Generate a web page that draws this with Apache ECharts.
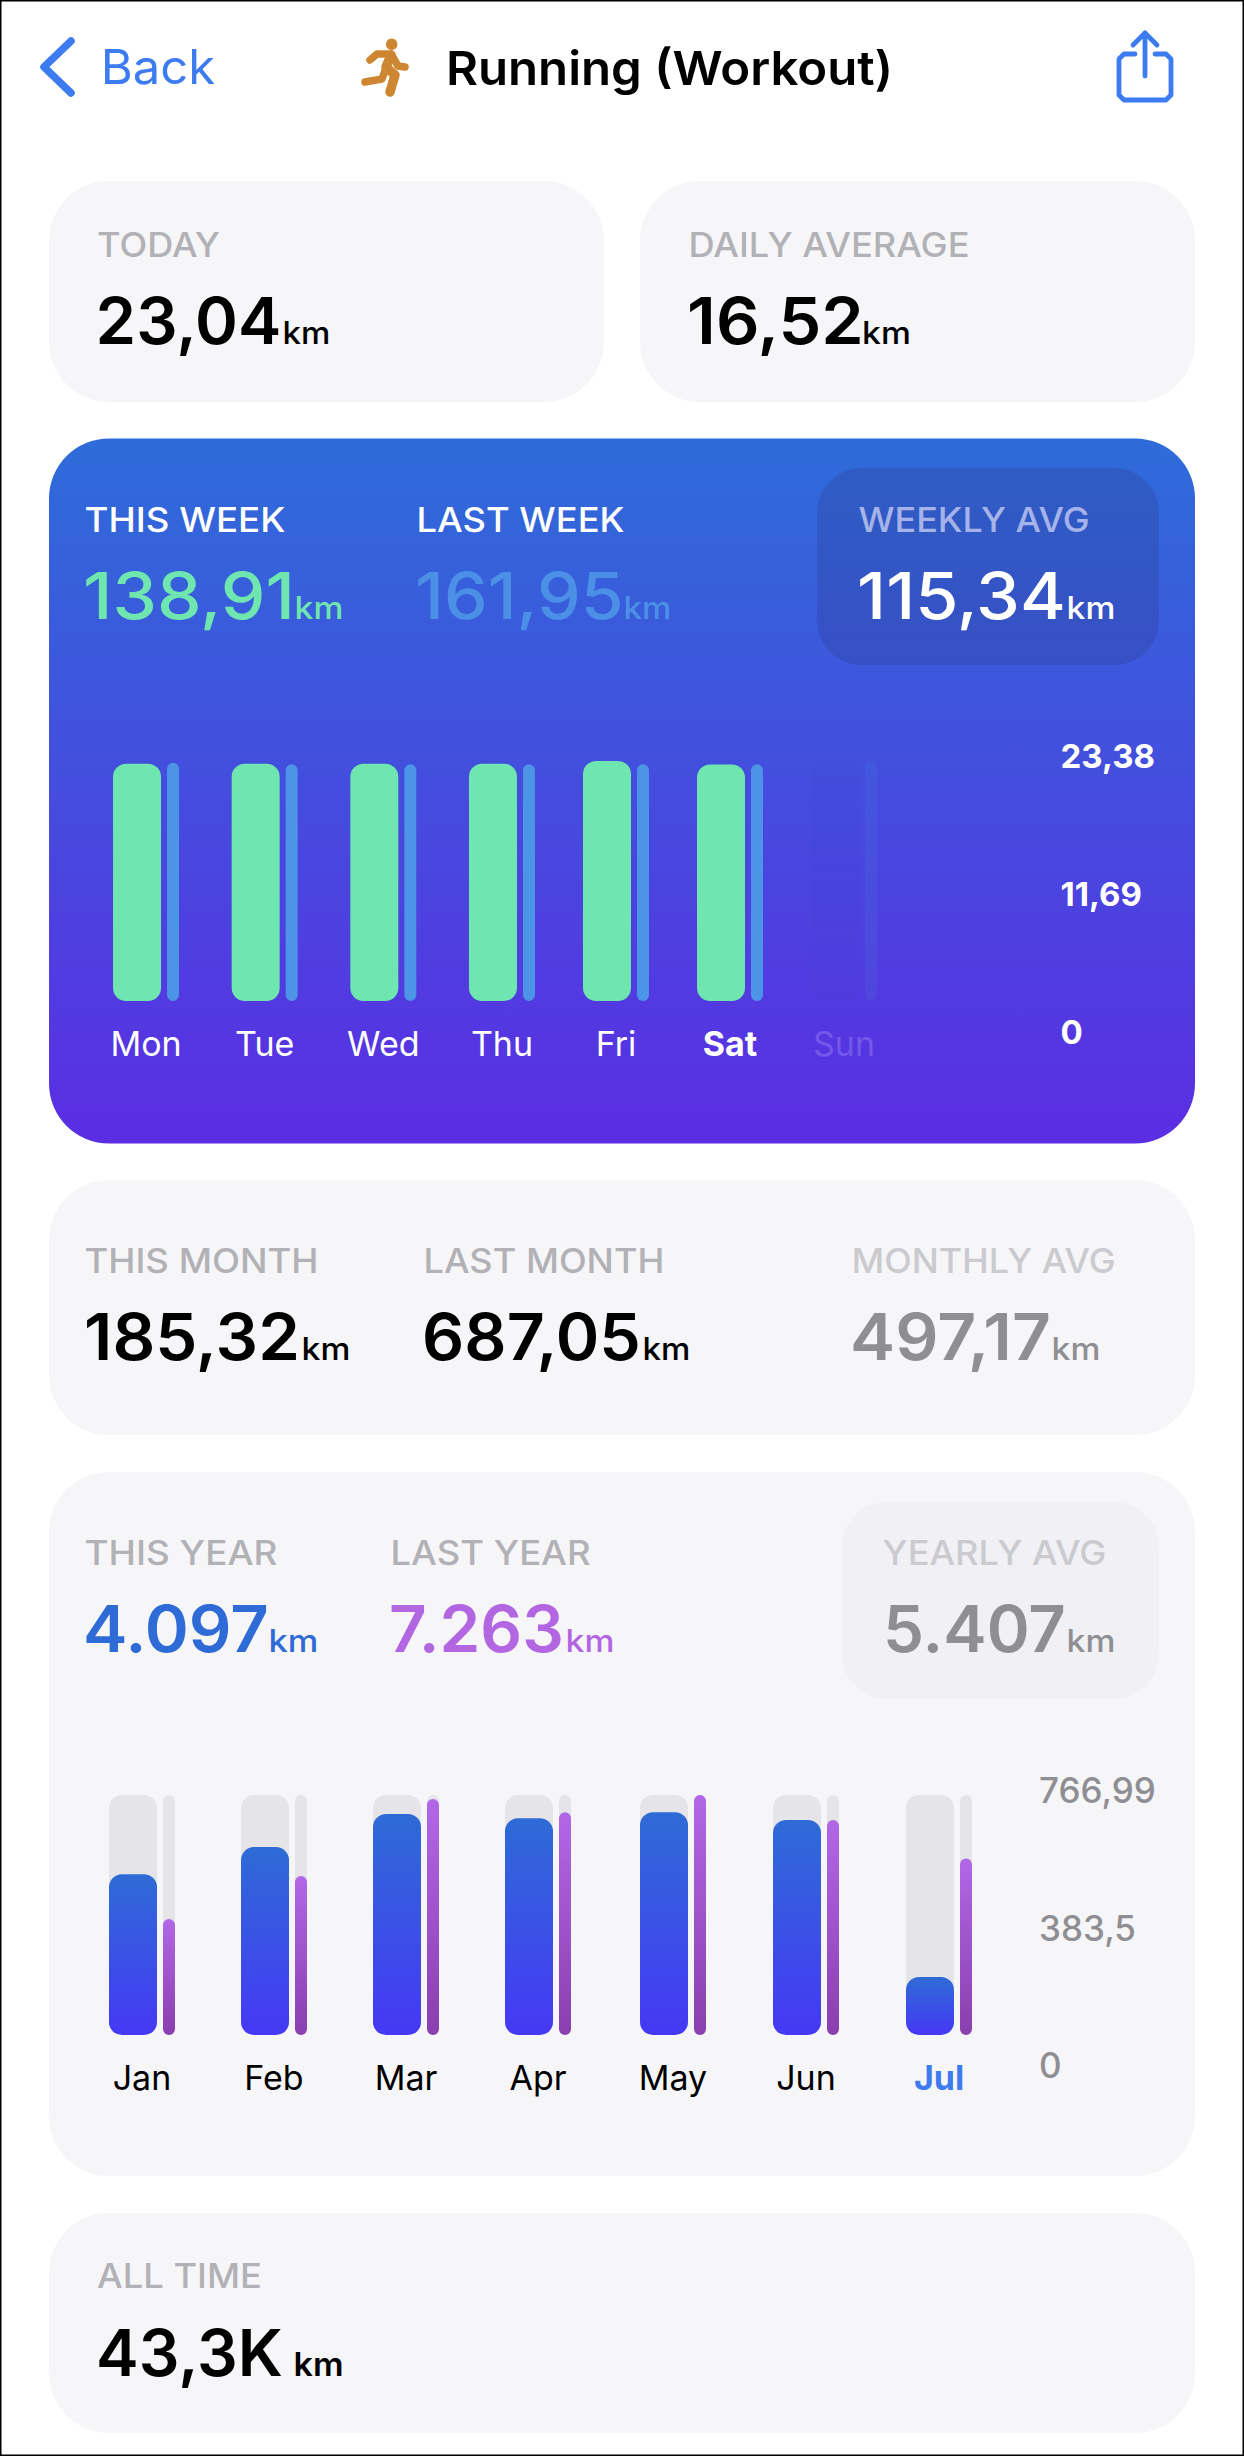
<!DOCTYPE html>
<html><head><meta charset="utf-8">
<style>html,body{margin:0;padding:0;background:#fff}#c{width:1244px;height:2456px}</style>
<script src="https://cdn.jsdelivr.net/npm/echarts@6/dist/echarts.min.js"></script>
</head><body><div id="c"></div>
<script>
// ---- data ----
const weekDays = ['Mon','Tue','Wed','Thu','Fri','Sat','Sun'];
const thisWeekKm = [23.12,23.12,23.12,23.12,23.38,23.04,0];
const lastWeekKm = [23.2,23.07,23.07,23.07,23.07,23.07,23.38];
const weekTicks = ['0','11,69','23,38'];
const weekMax = 23.38;
const months = ['Jan','Feb','Mar','Apr','May','Jun','Jul'];
const thisYearKm = [514,600.5,706.3,692.5,711.7,687.05,185.32];
const lastYearKm = [370.7,508,754,711.7,766.99,687,564.4];
const yearTicks = ['0','383,5','766,99'];
const yearMax = 766.99;

const FONT = 'Inter';
const BLUE = '#3C7BF0';
const CARD = '#F6F6F8';
const GREY = '#B1B1B6';
const measure = document.createElement('canvas').getContext('2d');

// text placed by its baseline, stretched to the width seen in the reference
function t(text, x, base, size, weight, fill, targetW) {
  measure.font = weight + ' ' + size + 'px ' + FONT;
  const w = measure.measureText(text).width;
  const bearing = size*0.045;
  return { type:'text', x:x-bearing, y:base - size*0.363, scaleX: targetW ? (targetW+2*bearing)/w : 1, z:100, silent:true,
    style:{ text:text, x:0, y:0, fontFamily:FONT, fontSize:size, fontWeight:weight, fill:fill, align:'left', verticalAlign:'middle' } };
}
function card(x,y,w,h,r,fill){ return {type:'rect',z:-10,silent:true,shape:{x:x,y:y,width:w,height:h,r:r},style:{fill:fill}}; }
function stroke(points,width,color){ return {type:'polyline',z:5,silent:true,shape:{points:points},style:{fill:'none',stroke:color,lineWidth:width,lineCap:'round',lineJoin:'round'}}; }
function km(x,base,fill,w,size,weight){ return t('km',x,base,size||31,weight||500,fill,w); }

const graphics = [
  // header
  stroke([[71,41],[44,67],[71,93]],7.5,BLUE),
  t('Back',103,84,48,400,BLUE,110),
  {type:'circle',z:5,silent:true,shape:{cx:391.7,cy:44.3,r:5.8},style:{fill:'#CE8632'}},
  stroke([[370,60],[377,54],[391,54],[398,66],[405,67]],7.5,'#CE8632'),
  stroke([[391,55],[386,67],[395,75],[390,92]],9.5,'#CE8632'),
  stroke([[386,68],[382,79],[365,82]],7.5,'#CE8632'),
  t('Running (Workout)',448,85,47,600,'#000',443),
  stroke([[1135,54],[1124,54],[1119,59],[1119,95],[1124,100],[1166,100],[1171,95],[1171,59],[1166,54],[1155,54]],4.8,BLUE),
  stroke([[1145,76],[1145,33]],4.8,BLUE),
  stroke([[1133,45],[1145,33],[1157,45]],4.8,BLUE),
  // today / daily
  card(49,181,555,221,60,CARD), card(640,181,555,221,60,CARD),
  t('TODAY',98.5,257,34,500,GREY,120),
  t('23,04',98.5,344,64,600,'#000',180), km(284,344,'#000',45),
  t('DAILY AVERAGE',690,257,34,500,GREY,278),
  t('16,52',690,344,64,600,'#000',171), km(863.5,344,'#000',46),
  // week
  card(49,438.5,1146,705,60,{type:'linear',x:0,y:0,x2:0,y2:1,colorStops:[{offset:0,color:'#2E6CD9'},{offset:1,color:'#5B2DE3'}]}),
  {type:'rect',z:-9,silent:true,shape:{x:817,y:468,width:342,height:197,r:45},style:{fill:'rgba(45,60,140,0.27)'}},
  t('THIS WEEK',86,532,34,500,'#fff',198),
  t('138,91',86,619,64,500,'#6FE6AF',206), km(296,619,'#6FE6AF',46),
  t('LAST WEEK',418,532,34,500,'#fff',205),
  t('161,95',418,619,64,500,'#4C8FE6',203), km(625,619,'#4C8FE6',45),
  t('WEEKLY AVG',860,532,34,500,'#A5B3E8',228),
  t('115,34',860,619,64,500,'#fff',203), km(1068,619,'#fff',46),
  // month
  card(49,1180,1146,255,60,CARD),
  t('THIS MONTH',86,1273,34,500,GREY,231),
  t('185,32',87,1360,64,600,'#000',210), km(303,1360,'#000',46),
  t('LAST MONTH',425,1273,34,500,GREY,238),
  t('687,05',425,1360,64,600,'#000',213), km(644,1360,'#000',45),
  t('MONTHLY AVG',853,1273,34,500,'#CACACF',261),
  t('497,17',853,1360,64,600,'#8E8E93',195), km(1053,1360,'#8E8E93',46),
  // year
  card(49,1472,1146,704,60,CARD),
  card(842,1502,317,197,45,'#F1F1F5'),
  t('THIS YEAR',86,1565,34,500,GREY,190),
  t('4.097',86,1652,64,600,'#2F6BD6',180), km(270,1652,'#2F6BD6',47),
  t('LAST YEAR',392,1565,34,500,GREY,197),
  t('7.263',392,1652,64,600,'#B366E2',169), km(567,1652,'#B366E2',46),
  t('YEARLY AVG',884,1565,34,500,'#CACACF',221),
  t('5.407',886,1652,64,600,'#8E8E93',177), km(1068,1652,'#8E8E93',46),
  // all time
  card(49,2213,1146,220,60,CARD),
  t('ALL TIME',98.5,2288,34,500,GREY,162),
  t('43,3K',99,2376,64,600,'#000',181), km(295,2376,'#000',47,32,600),
  // screenshot frame
  {type:'rect',z:200,silent:true,shape:{x:0,y:0,width:1244,height:2456},style:{fill:'none',stroke:'#000',lineWidth:3}}
];

const grids=[], xAxes=[], yAxes=[], series=[];
const noAxis = {show:false};

// one bar panel section: a grid, its category axis and the thick + thin bar series
function section(cfg, from, to, left, width){
  const g = grids.length;
  grids.push({left:left,width:width,top:cfg.top,height:cfg.height,containLabel:false});
  xAxes.push({type:'category',gridIndex:g,data:cfg.cats.slice(from,to).map(c=>
      c===cfg.hi?{value:c,textStyle:{fontWeight:700,color:cfg.hiColor}}:
      c===cfg.faded?{value:c,textStyle:{color:cfg.fadedColor}}:c),
    axisLine:noAxis,axisTick:noAxis,axisLabel:{interval:0,margin:cfg.margin,fontFamily:FONT,fontSize:34,color:cfg.labelColor,
      fontWeight:400}});
  yAxes.push({type:'value',gridIndex:g,min:0,max:cfg.max,show:false});
  series.push({name:cfg.names[0],type:'bar',xAxisIndex:g,yAxisIndex:g,barWidth:48,barGap:'12.5%',silent:true,
    showBackground:true,backgroundStyle:{color:cfg.track,borderRadius:13},
    itemStyle:{color:cfg.thickFill,borderRadius:13},data:cfg.thick.slice(from,to)});
  series.push({name:cfg.names[1],type:'bar',xAxisIndex:g,yAxisIndex:g,barWidth:12,barGap:'12.5%',silent:true,
    showBackground:true,backgroundStyle:{color:cfg.track,borderRadius:6},
    itemStyle:{color:cfg.thinFill,borderRadius:6},
    data:cfg.thin.slice(from,to).map((v,i)=>cfg.faded===cfg.cats[from+i]?{value:v,itemStyle:{opacity:0.14}}:v)});
}
// value scale printed beside a panel
function scale(ticks,max,left,top,height,color,weight,size){
  const g = grids.length;
  grids.push({left:left,width:120,top:top,height:height});
  xAxes.push({type:'category',gridIndex:g,show:false,data:[]});
  yAxes.push({type:'value',gridIndex:g,min:0,max:max,interval:max/2,position:'left',splitLine:noAxis,axisLine:noAxis,axisTick:noAxis,
    axisLabel:{inside:true,margin:0,align:'left',fontFamily:FONT,fontSize:size,fontWeight:weight,color:color,
      formatter:(v,i)=>ticks[i]}});
}

const weekCfg = {cats:weekDays,thick:thisWeekKm,thin:lastWeekKm,names:['This week','Last week'],max:weekMax,top:761,height:240,margin:25,
  labelColor:'#fff',hi:'Sat',hiColor:'#fff',faded:'Sun',fadedColor:'#7358E9',track:'rgba(45,50,150,0.03)',
  thickFill:'#6FE6AF',thinFill:'#4C94E6'};
section(weekCfg,0,4,86.7,474.6);
section(weekCfg,4,7,559,342);
scale(weekTicks,weekMax,1060.5,756,276,'#fff',700,33);

const yearCfg = {cats:months,thick:thisYearKm,thin:lastYearKm,names:['This year','Last year'],max:yearMax,top:1795,height:240,margin:25,
  labelColor:'#000',hi:'Jul',hiColor:BLUE,faded:null,track:'#E4E4E9',
  thickFill:{type:'linear',x:0,y:0,x2:0,y2:1,colorStops:[{offset:0,color:'#2E6BD6'},{offset:1,color:'#4638F5'}]},
  thinFill:{type:'linear',x:0,y:0,x2:0,y2:1,colorStops:[{offset:0,color:'#B267E6'},{offset:1,color:'#893FAE'}]}};
section(yearCfg,0,4,76,528);
section(yearCfg,4,7,606.5,399);
scale(yearTicks,yearMax,1039,1790,275,'#8E8E93',500,35);

const chart = echarts.init(document.getElementById('c'),null,{renderer:'svg'});
chart.setOption({animation:false,backgroundColor:'#fff',tooltip:{show:false},legend:{show:false},
  grid:grids,xAxis:xAxes,yAxis:yAxes,series:series,graphic:{elements:graphics}});
</script></body></html>
